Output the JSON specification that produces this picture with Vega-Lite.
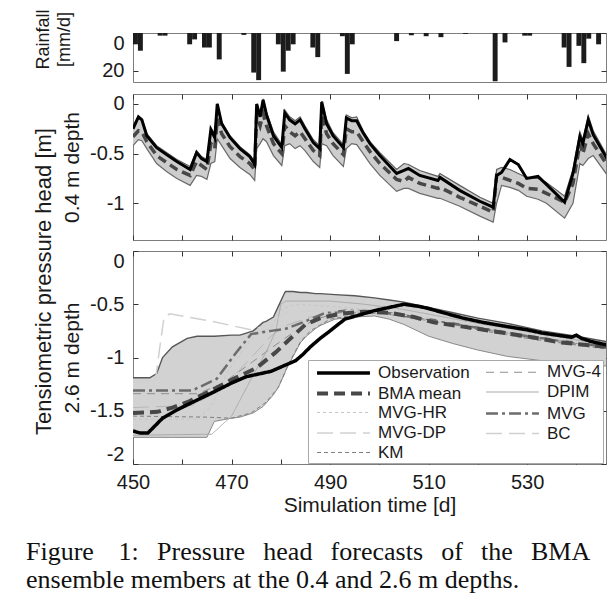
{
"$schema": "https://vega.github.io/schema/vega-lite/v6.json",
"background": "white",
"padding": {"left": 26, "top": 8, "right": 0, "bottom": 0},
"config": {
 "view": {"stroke": "#7d7d7d", "strokeWidth": 1},
 "axis": {"domain": false, "grid": false, "labelFont": "Liberation Sans", "labelFontSize": 20, "labelColor": "#1a1a1a", "tickColor": "#333333", "tickSize": -5, "tickWidth": 1, "labelPadding": 14, "titleFont": "Liberation Sans", "titleFontWeight": "normal", "titleColor": "#1a1a1a", "titleFontSize": 21, "labelOverlap": false, "labelBound": false},
 "legend": {"orient": "none", "legendX": 175, "legendY": 109, "columns": 2, "title": null, "symbolType": "M-0.44,0H5.44", "symbolSize": 324, "labelFont": "Liberation Sans", "labelFontSize": 17, "labelColor": "#1a1a1a", "labelOffset": 46, "padding": 2, "rowPadding": 1.5, "columnPadding": 9, "fillColor": "#ffffff", "strokeColor": "#a8a8a8", "labelLimit": 200}
},
"datasets": {
 "rain": [
  {"d0":450,"d1":451,"mm":6},{"d0":451,"d1":452,"mm":9.4},{"d0":455,"d1":456,"mm":1.4},{"d0":456,"d1":457,"mm":1.4},
  {"d0":461,"d1":462,"mm":6},{"d0":462,"d1":463,"mm":3.4},{"d0":464,"d1":465,"mm":7.7},{"d0":465,"d1":466,"mm":7.7},
  {"d0":467,"d1":468,"mm":14},{"d0":472,"d1":473,"mm":1},{"d0":474,"d1":475,"mm":21},{"d0":475,"d1":476,"mm":25},
  {"d0":479,"d1":480,"mm":6},{"d0":480,"d1":481,"mm":20.5},{"d0":481,"d1":482,"mm":9.4},{"d0":482,"d1":483,"mm":6},
  {"d0":486,"d1":487,"mm":7.7},{"d0":487,"d1":488,"mm":12.8},{"d0":492,"d1":493,"mm":1.7},{"d0":493,"d1":494,"mm":21.7},
  {"d0":494,"d1":495,"mm":6},{"d0":503,"d1":504,"mm":4.3},{"d0":506,"d1":507,"mm":1.2},{"d0":509,"d1":510,"mm":1.7},
  {"d0":512,"d1":513,"mm":2.2},{"d0":517,"d1":518,"mm":0.5},{"d0":523,"d1":524,"mm":25.6},{"d0":525,"d1":526,"mm":5},
  {"d0":529,"d1":530,"mm":1.4},{"d0":530,"d1":531,"mm":1.4},{"d0":537,"d1":538,"mm":7.7},{"d0":538,"d1":539,"mm":18},
  {"d0":540,"d1":541,"mm":6.8},{"d0":541,"d1":542,"mm":16},{"d0":542,"d1":543,"mm":3},{"d0":544,"d1":545,"mm":6}
 ],
 "mid": [
  {"d":450.0,"obs":-0.25,"mean":-0.33,"lo":-0.42,"up":-0.22},
  {"d":451.1,"obs":-0.13,"mean":-0.27,"lo":-0.36,"up":-0.12},
  {"d":451.8,"obs":-0.16,"mean":-0.28,"lo":-0.37,"up":-0.15},
  {"d":452.8,"obs":-0.32,"mean":-0.38,"lo":-0.45,"up":-0.30},
  {"d":454.8,"obs":-0.44,"mean":-0.52,"lo":-0.60,"up":-0.42},
  {"d":456.8,"obs":-0.51,"mean":-0.59,"lo":-0.68,"up":-0.49},
  {"d":458.9,"obs":-0.58,"mean":-0.66,"lo":-0.75,"up":-0.56},
  {"d":461.6,"obs":-0.66,"mean":-0.72,"lo":-0.82,"up":-0.63},
  {"d":462.9,"obs":-0.49,"mean":-0.58,"lo":-0.72,"up":-0.47},
  {"d":463.9,"obs":-0.55,"mean":-0.62,"lo":-0.73,"up":-0.53},
  {"d":465.0,"obs":-0.58,"mean":-0.66,"lo":-0.76,"up":-0.56},
  {"d":465.8,"obs":-0.26,"mean":-0.40,"lo":-0.60,"up":-0.24},
  {"d":466.6,"obs":-0.34,"mean":-0.45,"lo":-0.58,"up":-0.30},
  {"d":467.1,"obs":0.00,"mean":-0.15,"lo":-0.35,"up":0.00},
  {"d":468.0,"obs":-0.20,"mean":-0.30,"lo":-0.42,"up":-0.18},
  {"d":469.7,"obs":-0.34,"mean":-0.43,"lo":-0.55,"up":-0.32},
  {"d":471.7,"obs":-0.45,"mean":-0.53,"lo":-0.64,"up":-0.43},
  {"d":473.7,"obs":-0.53,"mean":-0.60,"lo":-0.71,"up":-0.51},
  {"d":474.7,"obs":-0.61,"mean":-0.66,"lo":-0.77,"up":-0.58},
  {"d":475.1,"obs":0.00,"mean":-0.12,"lo":-0.45,"up":0.00},
  {"d":475.8,"obs":-0.13,"mean":-0.22,"lo":-0.40,"up":-0.10},
  {"d":476.4,"obs":0.04,"mean":-0.10,"lo":-0.35,"up":0.05},
  {"d":477.1,"obs":-0.11,"mean":-0.22,"lo":-0.38,"up":-0.08},
  {"d":478.5,"obs":-0.32,"mean":-0.40,"lo":-0.52,"up":-0.28},
  {"d":480.2,"obs":-0.44,"mean":-0.50,"lo":-0.62,"up":-0.41},
  {"d":480.8,"obs":-0.09,"mean":-0.22,"lo":-0.42,"up":-0.06},
  {"d":481.8,"obs":-0.16,"mean":-0.28,"lo":-0.40,"up":-0.13},
  {"d":482.9,"obs":-0.20,"mean":-0.32,"lo":-0.45,"up":-0.17},
  {"d":483.9,"obs":-0.16,"mean":-0.28,"lo":-0.42,"up":-0.13},
  {"d":484.9,"obs":-0.25,"mean":-0.35,"lo":-0.47,"up":-0.22},
  {"d":486.6,"obs":-0.39,"mean":-0.47,"lo":-0.58,"up":-0.36},
  {"d":487.9,"obs":-0.45,"mean":-0.52,"lo":-0.64,"up":-0.42},
  {"d":488.3,"obs":0.02,"mean":-0.12,"lo":-0.40,"up":0.03},
  {"d":489.3,"obs":-0.20,"mean":-0.30,"lo":-0.42,"up":-0.16},
  {"d":490.6,"obs":-0.32,"mean":-0.40,"lo":-0.52,"up":-0.29},
  {"d":492.7,"obs":-0.44,"mean":-0.51,"lo":-0.63,"up":-0.41},
  {"d":493.3,"obs":-0.14,"mean":-0.25,"lo":-0.45,"up":-0.11},
  {"d":494.4,"obs":-0.17,"mean":-0.28,"lo":-0.40,"up":-0.14},
  {"d":495.4,"obs":-0.17,"mean":-0.28,"lo":-0.41,"up":-0.13},
  {"d":496.7,"obs":-0.29,"mean":-0.38,"lo":-0.50,"up":-0.27},
  {"d":498.1,"obs":-0.40,"mean":-0.48,"lo":-0.60,"up":-0.38},
  {"d":500.1,"obs":-0.52,"mean":-0.60,"lo":-0.72,"up":-0.49},
  {"d":503.5,"obs":-0.70,"mean":-0.76,"lo":-0.88,"up":-0.66},
  {"d":505.0,"obs":-0.67,"mean":-0.78,"lo":-0.85,"up":-0.60},
  {"d":505.9,"obs":-0.65,"mean":-0.74,"lo":-0.85,"up":-0.61},
  {"d":508.2,"obs":-0.72,"mean":-0.80,"lo":-0.90,"up":-0.67},
  {"d":511.9,"obs":-0.77,"mean":-0.85,"lo":-0.95,"up":-0.73},
  {"d":512.3,"obs":-0.74,"mean":-0.84,"lo":-0.95,"up":-0.70},
  {"d":516.3,"obs":-0.87,"mean":-0.94,"lo":-1.03,"up":-0.82},
  {"d":520.4,"obs":-0.98,"mean":-1.03,"lo":-1.13,"up":-0.94},
  {"d":523.1,"obs":-1.04,"mean":-1.09,"lo":-1.19,"up":-1.00},
  {"d":523.8,"obs":-0.72,"mean":-0.72,"lo":-1.00,"up":-0.66},
  {"d":524.8,"obs":-0.69,"mean":-0.74,"lo":-0.82,"up":-0.64},
  {"d":526.5,"obs":-0.56,"mean":-0.77,"lo":-0.84,"up":-0.66},
  {"d":528.2,"obs":-0.61,"mean":-0.80,"lo":-0.87,"up":-0.70},
  {"d":529.9,"obs":-0.75,"mean":-0.85,"lo":-0.93,"up":-0.74},
  {"d":532.2,"obs":-0.73,"mean":-0.86,"lo":-0.96,"up":-0.75},
  {"d":533.9,"obs":-0.81,"mean":-0.90,"lo":-1.00,"up":-0.79},
  {"d":537.6,"obs":-0.99,"mean":-0.99,"lo":-1.15,"up":-0.93},
  {"d":539.3,"obs":-0.70,"mean":-0.80,"lo":-1.00,"up":-0.66},
  {"d":540.7,"obs":-0.33,"mean":-0.40,"lo":-0.60,"up":-0.28},
  {"d":541.3,"obs":-0.40,"mean":-0.50,"lo":-0.62,"up":-0.36},
  {"d":542.4,"obs":-0.16,"mean":-0.30,"lo":-0.55,"up":-0.12},
  {"d":543.4,"obs":-0.31,"mean":-0.40,"lo":-0.52,"up":-0.27},
  {"d":546.3,"obs":-0.56,"mean":-0.62,"lo":-0.72,"up":-0.53}
 ],
 "band2": [
  {"d":450,"lo":-1.75,"up":-1.19},{"d":453.4,"lo":-1.75,"up":-1.19},{"d":454.8,"lo":-1.75,"up":-1.15},{"d":456,"lo":-1.75,"up":-1.0},
  {"d":458,"lo":-1.75,"up":-0.9},{"d":461,"lo":-1.75,"up":-0.82},{"d":463,"lo":-1.75,"up":-0.80},{"d":465,"lo":-1.75,"up":-0.80},
  {"d":466.5,"lo":-1.60,"up":-0.80},{"d":470,"lo":-1.57,"up":-0.79},{"d":471.7,"lo":-1.56,"up":-0.79},{"d":474.4,"lo":-1.52,"up":-0.75},
  {"d":476.4,"lo":-1.46,"up":-0.67},{"d":477,"lo":-1.43,"up":-0.66},{"d":478.5,"lo":-1.35,"up":-0.62},{"d":479.5,"lo":-1.28,"up":-0.52},
  {"d":480.8,"lo":-1.15,"up":-0.39},{"d":481,"lo":-1.12,"up":-0.38},{"d":482.5,"lo":-0.99,"up":-0.38},{"d":484,"lo":-0.86,"up":-0.39},
  {"d":485.2,"lo":-0.80,"up":-0.39},{"d":487,"lo":-0.73,"up":-0.40},{"d":488,"lo":-0.70,"up":-0.40},{"d":491,"lo":-0.64,"up":-0.41},
  {"d":495,"lo":-0.62,"up":-0.42},{"d":499,"lo":-0.61,"up":-0.44},{"d":502,"lo":-0.64,"up":-0.46},{"d":505,"lo":-0.69,"up":-0.48},
  {"d":510,"lo":-0.80,"up":-0.53},{"d":515,"lo":-0.87,"up":-0.58},{"d":520,"lo":-0.93,"up":-0.63},{"d":526,"lo":-0.99,"up":-0.68},
  {"d":533,"lo":-1.03,"up":-0.75},{"d":540,"lo":-1.06,"up":-0.80},{"d":546,"lo":-1.08,"up":-0.85}
 ],
 "lines2": [
  {"s":"Observation","d":450,"v":-1.69},{"s":"Observation","d":451.5,"v":-1.71},{"s":"Observation","d":453,"v":-1.71},{"s":"Observation","d":456,"v":-1.57},
  {"s":"Observation","d":459,"v":-1.49},{"s":"Observation","d":463,"v":-1.40},{"s":"Observation","d":467,"v":-1.31},{"s":"Observation","d":470,"v":-1.24},
  {"s":"Observation","d":473,"v":-1.18},{"s":"Observation","d":476,"v":-1.15},{"s":"Observation","d":478,"v":-1.13},{"s":"Observation","d":481,"v":-1.07},
  {"s":"Observation","d":483,"v":-1.03},{"s":"Observation","d":484.5,"v":-0.97},{"s":"Observation","d":486,"v":-0.90},{"s":"Observation","d":488,"v":-0.82},
  {"s":"Observation","d":490,"v":-0.75},{"s":"Observation","d":493,"v":-0.64},{"s":"Observation","d":496,"v":-0.60},{"s":"Observation","d":499,"v":-0.56},
  {"s":"Observation","d":502,"v":-0.53},{"s":"Observation","d":505,"v":-0.50},{"s":"Observation","d":508,"v":-0.52},{"s":"Observation","d":510,"v":-0.54},
  {"s":"Observation","d":513,"v":-0.58},{"s":"Observation","d":517,"v":-0.63},{"s":"Observation","d":521,"v":-0.67},{"s":"Observation","d":526,"v":-0.71},
  {"s":"Observation","d":530,"v":-0.74},{"s":"Observation","d":533,"v":-0.77},{"s":"Observation","d":536,"v":-0.79},{"s":"Observation","d":539,"v":-0.81},
  {"s":"Observation","d":540,"v":-0.79},{"s":"Observation","d":541,"v":-0.82},{"s":"Observation","d":543,"v":-0.85},{"s":"Observation","d":546,"v":-0.88},
  {"s":"BMA mean","d":450,"v":-1.52},{"s":"BMA mean","d":455,"v":-1.51},{"s":"BMA mean","d":458,"v":-1.47},{"s":"BMA mean","d":461,"v":-1.42},
  {"s":"BMA mean","d":465,"v":-1.33},{"s":"BMA mean","d":470,"v":-1.21},{"s":"BMA mean","d":475,"v":-1.10},{"s":"BMA mean","d":479,"v":-0.95},
  {"s":"BMA mean","d":482,"v":-0.82},{"s":"BMA mean","d":485,"v":-0.69},{"s":"BMA mean","d":488,"v":-0.63},{"s":"BMA mean","d":492,"v":-0.59},
  {"s":"BMA mean","d":497,"v":-0.57},{"s":"BMA mean","d":502,"v":-0.58},{"s":"BMA mean","d":507,"v":-0.62},{"s":"BMA mean","d":511,"v":-0.67},
  {"s":"BMA mean","d":517,"v":-0.71},{"s":"BMA mean","d":524,"v":-0.76},{"s":"BMA mean","d":531,"v":-0.81},{"s":"BMA mean","d":537,"v":-0.86},
  {"s":"BMA mean","d":546,"v":-0.90},
  {"s":"MVG-HR","d":450,"v":-1.58},{"s":"MVG-HR","d":463,"v":-1.58},{"s":"MVG-HR","d":466,"v":-1.45},{"s":"MVG-HR","d":469,"v":-1.15},
  {"s":"MVG-HR","d":472,"v":-0.95},{"s":"MVG-HR","d":475,"v":-0.78},{"s":"MVG-HR","d":478,"v":-0.72},{"s":"MVG-HR","d":480,"v":-0.55},
  {"s":"MVG-HR","d":483,"v":-0.50},{"s":"MVG-HR","d":490,"v":-0.52},{"s":"MVG-HR","d":500,"v":-0.56},{"s":"MVG-HR","d":510,"v":-0.63},
  {"s":"MVG-HR","d":520,"v":-0.70},{"s":"MVG-HR","d":530,"v":-0.78},{"s":"MVG-HR","d":546,"v":-0.88},
  {"s":"MVG-DP","d":450,"v":-1.47},{"s":"MVG-DP","d":462,"v":-1.45},{"s":"MVG-DP","d":468,"v":-1.30},{"s":"MVG-DP","d":474,"v":-1.00},
  {"s":"MVG-DP","d":478,"v":-0.80},{"s":"MVG-DP","d":481,"v":-0.70},{"s":"MVG-DP","d":486,"v":-0.62},{"s":"MVG-DP","d":492,"v":-0.57},
  {"s":"MVG-DP","d":500,"v":-0.57},{"s":"MVG-DP","d":520,"v":-0.72},{"s":"MVG-DP","d":546,"v":-0.90},
  {"s":"KM","d":450,"v":-1.55},{"s":"KM","d":465,"v":-1.56},{"s":"KM","d":470,"v":-1.57},{"s":"KM","d":474,"v":-1.52},
  {"s":"KM","d":477,"v":-1.42},{"s":"KM","d":479.5,"v":-1.28},{"s":"KM","d":481,"v":-1.12},{"s":"KM","d":482.5,"v":-0.98},
  {"s":"KM","d":484,"v":-0.85},{"s":"KM","d":486,"v":-0.75},{"s":"KM","d":490,"v":-0.64},{"s":"KM","d":495,"v":-0.60},
  {"s":"KM","d":500,"v":-0.58},{"s":"KM","d":510,"v":-0.64},{"s":"KM","d":520,"v":-0.74},{"s":"KM","d":530,"v":-0.82},{"s":"KM","d":546,"v":-0.92},
  {"s":"MVG-4","d":450,"v":-1.34},{"s":"MVG-4","d":463,"v":-1.34},{"s":"MVG-4","d":468,"v":-1.25},{"s":"MVG-4","d":474,"v":-1.05},
  {"s":"MVG-4","d":479,"v":-0.88},{"s":"MVG-4","d":483,"v":-0.75},{"s":"MVG-4","d":487,"v":-0.64},{"s":"MVG-4","d":492,"v":-0.58},
  {"s":"MVG-4","d":500,"v":-0.58},{"s":"MVG-4","d":520,"v":-0.73},{"s":"MVG-4","d":546,"v":-0.91},
  {"s":"DPIM","d":450,"v":-1.73},{"s":"DPIM","d":466,"v":-1.72},{"s":"DPIM","d":470,"v":-1.55},{"s":"DPIM","d":474,"v":-1.20},
  {"s":"DPIM","d":477,"v":-0.95},{"s":"DPIM","d":479,"v":-0.75},{"s":"DPIM","d":480,"v":-0.50},{"s":"DPIM","d":481,"v":-0.47},
  {"s":"DPIM","d":490,"v":-0.47},{"s":"DPIM","d":497,"v":-0.50},{"s":"DPIM","d":505,"v":-0.55},{"s":"DPIM","d":520,"v":-0.68},{"s":"DPIM","d":546,"v":-0.88},
  {"s":"MVG","d":450,"v":-1.31},{"s":"MVG","d":462,"v":-1.31},{"s":"MVG","d":467,"v":-1.20},{"s":"MVG","d":471,"v":-0.95},
  {"s":"MVG","d":474,"v":-0.78},{"s":"MVG","d":478,"v":-0.75},{"s":"MVG","d":481,"v":-0.73},{"s":"MVG","d":485,"v":-0.66},
  {"s":"MVG","d":489,"v":-0.58},{"s":"MVG","d":493,"v":-0.56},{"s":"MVG","d":500,"v":-0.57},{"s":"MVG","d":510,"v":-0.64},
  {"s":"MVG","d":520,"v":-0.72},{"s":"MVG","d":530,"v":-0.80},{"s":"MVG","d":546,"v":-0.90},
  {"s":"BC","d":450,"v":-1.23},{"s":"BC","d":454.5,"v":-1.23},{"s":"BC","d":455.3,"v":-0.95},{"s":"BC","d":456.3,"v":-0.62},
  {"s":"BC","d":457.5,"v":-0.59},{"s":"BC","d":466,"v":-0.66},{"s":"BC","d":474,"v":-0.74},{"s":"BC","d":478,"v":-0.69},
  {"s":"BC","d":481,"v":-0.58},{"s":"BC","d":486,"v":-0.56},{"s":"BC","d":495,"v":-0.56},{"s":"BC","d":505,"v":-0.60},
  {"s":"BC","d":520,"v":-0.70},{"s":"BC","d":546,"v":-0.90}
 ]
},
"title": {
 "text": ["Figure \u00a0\u2009 1: \u00a0\u2009Pressure \u00a0\u2009head \u00a0\u2009forecasts \u00a0\u2009of \u00a0\u2009the \u00a0\u2009BMA", "ensemble members at the 0.4 and 2.6 m depths."],
 "orient": "bottom", "anchor": "start", "frame": "group", "dx": -107, "offset": 23,
 "font": "Liberation Serif", "fontSize": 26, "fontWeight": "normal", "color": "#111111", "lineHeight": 28
},
"bounds": "flush",
"spacing": 12,
"resolve": {"scale": {"color": "independent", "strokeDash": "independent", "strokeWidth": "independent"}},
"vconcat": [
 {
  "width": 473, "height": 49,
  "data": {"name": "rain"},
  "layer": [
   {"mark": {"type": "bar", "color": "#1c1c1c", "clip": true},
    "encoding": {
     "x": {"field": "d0", "type": "quantitative", "scale": {"domain": [450, 546], "nice": false, "zero": false}, "axis": null},
     "x2": {"field": "d1"},
     "y": {"field": "mm", "type": "quantitative", "scale": {"domain": [0, 26], "reverse": true, "nice": false}, "axis": {"orient": "left", "values": [0, 20], "labelFlush": true, "title": ["Rainfall", "[mm/d]"], "titleFontSize": 18, "titleLineHeight": 21, "titleX": -81, "titleY": 6, "titleBaseline": "bottom"}},
     "y2": {"datum": 0}
    }},
   {"mark": {"type": "bar", "opacity": 0, "clip": true},
    "encoding": {
     "x": {"field": "d0", "type": "quantitative", "scale": {"domain": [450, 546], "nice": false, "zero": false}, "axis": null},
     "x2": {"field": "d1"},
     "y": {"field": "mm", "type": "quantitative", "scale": {"domain": [0, 26], "reverse": true, "nice": false}, "axis": {"orient": "right", "values": [0, 20], "labels": false, "title": null}},
     "y2": {"datum": 0}
    }}
  ],
  "resolve": {"axis": {"y": "independent"}}
 },
 {
  "bounds": "flush",
  "spacing": 11,
  "resolve": {"scale": {"color": "independent", "strokeDash": "independent", "strokeWidth": "independent"}},
  "vconcat": [
   {
    "width": 473, "height": 146,
    "data": {"name": "mid"},
    "layer": [
     {"mark": {"type": "area", "color": "#cdcdcd", "clip": true},
      "encoding": {
       "x": {"field": "d", "type": "quantitative", "scale": {"domain": [450, 546], "nice": false, "zero": false}, "axis": {"orient": "bottom", "values": [450,460,470,480,490,500,510,520,530,540], "labels": false, "title": null}},
       "y": {"field": "lo", "type": "quantitative", "scale": {"domain": [-1.37, 0.1], "nice": false, "zero": false}, "axis": {"orient": "left", "values": [0, -0.5, -1], "labelExpr": "replace(format(datum.value, '~g'), '\u2212', '-')", "labelFlush": true, "title": "0.4 m depth", "titleX": -51, "titleBaseline": "bottom"}},
       "y2": {"field": "up"}
      }},
     {"mark": {"type": "line", "color": "#606060", "strokeWidth": 1.2, "clip": true},
      "encoding": {
       "x": {"field": "d", "type": "quantitative", "scale": {"domain": [450, 546], "nice": false, "zero": false}, "axis": {"orient": "top", "values": [450,460,470,480,490,500,510,520,530,540], "labels": false, "title": null}},
       "y": {"field": "up", "type": "quantitative", "scale": {"domain": [-1.37, 0.1], "nice": false, "zero": false}, "axis": {"orient": "right", "values": [0, -0.5, -1], "labels": false, "title": null}}
      }},
     {"mark": {"type": "line", "color": "#6a6a6a", "strokeWidth": 1.2, "clip": true},
      "encoding": {
       "x": {"field": "d", "type": "quantitative", "scale": {"domain": [450, 546], "nice": false, "zero": false}, "axis": null},
       "y": {"field": "lo", "type": "quantitative", "scale": {"domain": [-1.37, 0.1], "nice": false, "zero": false}, "axis": {"orient": "left", "labels": false, "ticks": false, "title": "Tensiometric pressure head [m]", "titleFontSize": 22, "titleX": -78, "titleY": 187, "titleBaseline": "bottom"}}
      }},
     {"mark": {"type": "line", "color": "#474747", "strokeWidth": 3.5, "strokeDash": [9, 5], "clip": true},
      "encoding": {
       "x": {"field": "d", "type": "quantitative", "scale": {"domain": [450, 546], "nice": false, "zero": false}, "axis": null},
       "y": {"field": "mean", "type": "quantitative", "scale": {"domain": [-1.37, 0.1], "nice": false, "zero": false}, "axis": null}
      }},
     {"mark": {"type": "line", "color": "#000000", "strokeWidth": 3, "clip": true},
      "encoding": {
       "x": {"field": "d", "type": "quantitative", "scale": {"domain": [450, 546], "nice": false, "zero": false}, "axis": null},
       "y": {"field": "obs", "type": "quantitative", "scale": {"domain": [-1.37, 0.1], "nice": false, "zero": false}, "axis": null}
      }}
    ],
    "resolve": {"axis": {"x": "independent", "y": "independent"}}
   },
   {
    "width": 473, "height": 213,
    "layer": [
     {"data": {"name": "band2"},
      "mark": {"type": "area", "color": "#d2d2d2", "clip": true},
      "encoding": {
       "x": {"field": "d", "type": "quantitative", "scale": {"domain": [450, 546], "nice": false, "zero": false}, "axis": {"orient": "bottom", "values": [450,460,470,480,490,500,510,520,530,540], "labelExpr": "datum.value % 20 == 10 ? datum.label : ''", "labelFlush": false, "labelPadding": 13, "title": "Simulation time [d]", "titlePadding": 2}},
       "y": {"field": "lo", "type": "quantitative", "scale": {"domain": [-2, 0], "nice": false, "zero": false}, "axis": {"orient": "left", "values": [0, -0.5, -1, -1.5, -2], "labelExpr": "replace(format(datum.value, '~g'), '\u2212', '-')", "labelFlush": true, "title": "2.6 m depth", "titleX": -51, "titleBaseline": "bottom"}},
       "y2": {"field": "up"}
      }},
     {"data": {"name": "band2"},
      "mark": {"type": "line", "color": "#575757", "strokeWidth": 1.4, "clip": true},
      "encoding": {
       "x": {"field": "d", "type": "quantitative", "scale": {"domain": [450, 546], "nice": false, "zero": false}, "axis": {"orient": "top", "values": [450,460,470,480,490,500,510,520,530,540], "labels": false, "title": null}},
       "y": {"field": "up", "type": "quantitative", "scale": {"domain": [-2, 0], "nice": false, "zero": false}, "axis": {"orient": "right", "values": [0, -0.5, -1, -1.5, -2], "labels": false, "title": null}}
      }},
     {"data": {"name": "band2"},
      "mark": {"type": "line", "color": "#8a8a8a", "strokeWidth": 1, "clip": true},
      "encoding": {
       "x": {"field": "d", "type": "quantitative", "scale": {"domain": [450, 546], "nice": false, "zero": false}, "axis": null},
       "y": {"field": "lo", "type": "quantitative", "scale": {"domain": [-2, 0], "nice": false, "zero": false}, "axis": null}
      }},
     {"data": {"name": "lines2"},
      "transform": [{"filter": "datum.s != 'Observation' && datum.s != 'BMA mean'"}],
      "mark": {"type": "line", "clip": true},
      "encoding": {
       "x": {"field": "d", "type": "quantitative", "scale": {"domain": [450, 546], "nice": false, "zero": false}, "axis": null},
       "y": {"field": "v", "type": "quantitative", "scale": {"domain": [-2, 0], "nice": false, "zero": false}, "axis": null},
       "color": {"field": "s", "type": "nominal", "scale": {"type": "ordinal", "domain": ["Observation","BMA mean","MVG-HR","MVG-DP","KM","MVG-4","DPIM","MVG","BC"], "range": ["#000000","#474747","#c6c6c6","#b8b8b8","#7e7e7e","#8e8e8e","#ababab","#6c6c6c","#d0d0d0"]}},
       "strokeDash": {"field": "s", "type": "nominal", "scale": {"type": "ordinal", "domain": ["Observation","BMA mean","MVG-HR","MVG-DP","KM","MVG-4","DPIM","MVG","BC"], "range": [[1,0],[11,6],[3,3],[16,7],[4,3],[8,6],[1,0],[12,4,3,4],[16,7]]}},
       "strokeWidth": {"field": "s", "type": "nominal", "scale": {"type": "ordinal", "domain": ["Observation","BMA mean","MVG-HR","MVG-DP","KM","MVG-4","DPIM","MVG","BC"], "range": [3.5,4,1,1,1,1,1,2.5,1.5]}}
      }},
     {"data": {"name": "lines2"},
      "transform": [{"filter": "datum.s == 'BMA mean'"}],
      "mark": {"type": "line", "clip": true},
      "encoding": {
       "x": {"field": "d", "type": "quantitative", "scale": {"domain": [450, 546], "nice": false, "zero": false}, "axis": null},
       "y": {"field": "v", "type": "quantitative", "scale": {"domain": [-2, 0], "nice": false, "zero": false}, "axis": null},
       "color": {"field": "s", "type": "nominal", "scale": {"type": "ordinal", "domain": ["Observation","BMA mean","MVG-HR","MVG-DP","KM","MVG-4","DPIM","MVG","BC"], "range": ["#000000","#474747","#c6c6c6","#b8b8b8","#7e7e7e","#8e8e8e","#ababab","#6c6c6c","#d0d0d0"]}},
       "strokeDash": {"field": "s", "type": "nominal", "scale": {"type": "ordinal", "domain": ["Observation","BMA mean","MVG-HR","MVG-DP","KM","MVG-4","DPIM","MVG","BC"], "range": [[1,0],[11,6],[3,3],[16,7],[4,3],[8,6],[1,0],[12,4,3,4],[16,7]]}},
       "strokeWidth": {"field": "s", "type": "nominal", "scale": {"type": "ordinal", "domain": ["Observation","BMA mean","MVG-HR","MVG-DP","KM","MVG-4","DPIM","MVG","BC"], "range": [3.5,4,1,1,1,1,1,2.5,1.5]}}
      }},
     {"data": {"name": "lines2"},
      "transform": [{"filter": "datum.s == 'Observation'"}],
      "mark": {"type": "line", "clip": true},
      "encoding": {
       "x": {"field": "d", "type": "quantitative", "scale": {"domain": [450, 546], "nice": false, "zero": false}, "axis": null},
       "y": {"field": "v", "type": "quantitative", "scale": {"domain": [-2, 0], "nice": false, "zero": false}, "axis": null},
       "color": {"field": "s", "type": "nominal", "scale": {"type": "ordinal", "domain": ["Observation","BMA mean","MVG-HR","MVG-DP","KM","MVG-4","DPIM","MVG","BC"], "range": ["#000000","#474747","#c6c6c6","#b8b8b8","#7e7e7e","#8e8e8e","#ababab","#6c6c6c","#d0d0d0"]}},
       "strokeDash": {"field": "s", "type": "nominal", "scale": {"type": "ordinal", "domain": ["Observation","BMA mean","MVG-HR","MVG-DP","KM","MVG-4","DPIM","MVG","BC"], "range": [[1,0],[11,6],[3,3],[16,7],[4,3],[8,6],[1,0],[12,4,3,4],[16,7]]}},
       "strokeWidth": {"field": "s", "type": "nominal", "scale": {"type": "ordinal", "domain": ["Observation","BMA mean","MVG-HR","MVG-DP","KM","MVG-4","DPIM","MVG","BC"], "range": [3.5,4,1,1,1,1,1,2.5,1.5]}}
      }}
    ],
    "resolve": {"axis": {"x": "independent", "y": "independent"}}
   }
  ]
 }
]
}
